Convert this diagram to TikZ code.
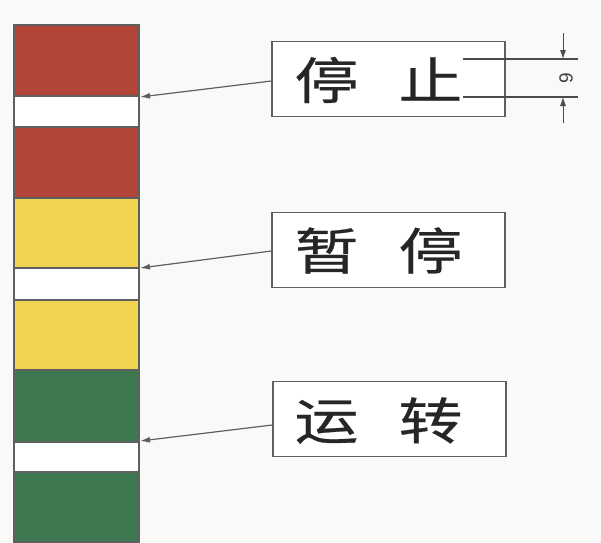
\documentclass[tikz,border=0pt]{standalone}
\usepackage{fontspec}
\newfontfamily\cjk[FakeStretch=1.28,FakeBold=0.5]{Noto Sans CJK SC}
\setsansfont{Liberation Sans}
\usetikzlibrary{arrows.meta}
\definecolor{sred}{RGB}{178,68,56}
\definecolor{syel}{RGB}{240,212,82}
\definecolor{sgrn}{RGB}{62,120,80}
\definecolor{edge}{RGB}{95,95,95}
\definecolor{bg}{RGB}{249,249,247}
\tikzset{
  blk/.style={draw=edge, line width=1.2pt},
  lblbox/.style={draw=edge, line width=1.4pt, fill=white, minimum width=233pt, minimum height=75pt, inner sep=0pt},
  lbl/.style={font=\cjk\fontsize{50}{50}\selectfont, text=black!85, inner sep=0pt},
  pointer/.style={draw=edge, line width=1.2pt, -{Latex[length=10pt,width=6pt]}},
  dimline/.style={draw=black!70, line width=1.1pt},
  dimarrow/.style={draw=black!70, line width=0.8pt, -{Latex[length=9pt,width=6pt]}},
}
\begin{document}
\begin{tikzpicture}[x=1pt,y=-1pt]
\fill[bg] (0,0) rectangle (601,542);
\useasboundingbox (0,0) rectangle (601,542);
% bar
\path[blk, fill=sred] (14,25) rectangle (139,96);
\path[blk, fill=white] (14,96) rectangle (139,127);
\path[blk, fill=sred] (14,127) rectangle (139,198);
\path[blk, fill=syel] (14,198) rectangle (139,268);
\path[blk, fill=white] (14,268) rectangle (139,300);
\path[blk, fill=syel] (14,300) rectangle (139,370);
\path[blk, fill=sgrn] (14,370) rectangle (139,442);
\path[blk, fill=white] (14,442) rectangle (139,472);
\path[blk, fill=sgrn] (14,472) rectangle (139,542);
% pointer targets
\coordinate (t1) at (140,97);
\coordinate (t2) at (140,268);
\coordinate (t3) at (140,441);
% label boxes
\node[lblbox] (b1) at (388.5,79.2) {};
\node[lblbox] (b2) at (388.5,250) {};
\node[lblbox] (b3) at (389.5,419) {};
\node[lbl] (l1) at (378.5,80) {停\hspace{40pt}止};
\node[lbl] (l2) at (378.5,250.5) {暂\hspace{40pt}停};
\node[lbl] (l3) at (378.5,420.5) {运\hspace{40pt}转};
% pointers
\coordinate (s1) at (b1.west |- 0,81);
\coordinate (s2) at (b2.west |- 0,251);
\coordinate (s3) at (b3.west |- 0,425);
\draw[pointer] (s1) -- (t1);
\draw[pointer] (s2) -- (t2);
\draw[pointer] (s3) -- (t3);
% dimension
\coordinate (d1a) at (463,59);
\coordinate (d1b) at (578,59);
\coordinate (d2a) at (463,97);
\coordinate (d2b) at (578,97);
\draw[dimline] (d1a) -- (d1b);
\draw[dimline] (d2a) -- (d2b);
\coordinate (a1s) at (563,33);
\coordinate (a1e) at (563,59);
\coordinate (a2s) at (563,123);
\coordinate (a2e) at (563,97);
\draw[dimarrow] (a1s) -- (a1e);
\draw[dimarrow] (a2s) -- (a2e);
\node[font=\sffamily\fontsize{19}{19}\selectfont, text=black!75, rotate=90, inner sep=0pt] (dim) at (566,78) {9};
\end{tikzpicture}
\end{document}
